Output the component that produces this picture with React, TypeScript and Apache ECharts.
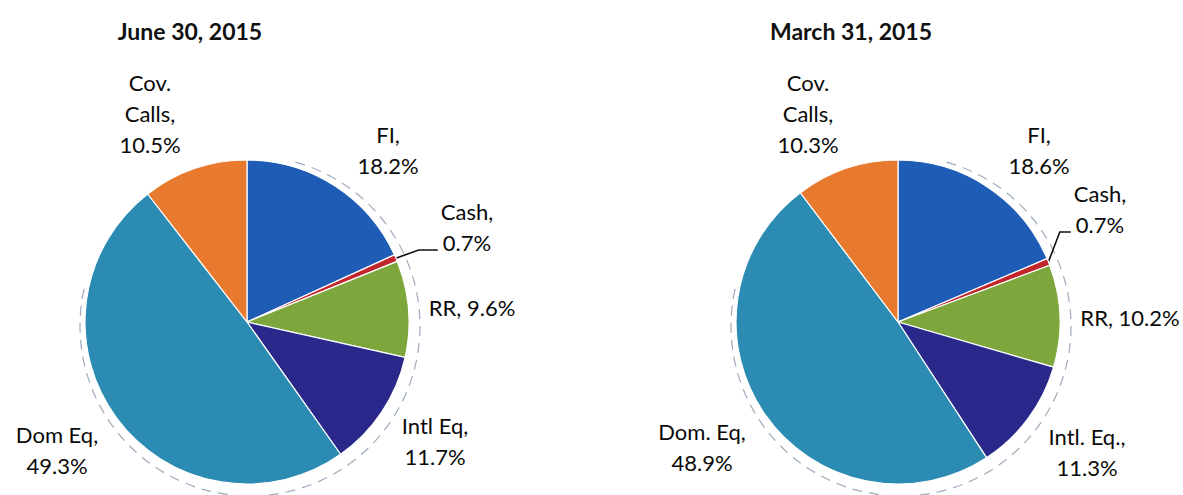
import React, { useEffect, useRef } from "react";
import * as echarts from "echarts";

const categories = ["FI", "Cash", "RR", "Intl Eq", "Dom Eq", "Cov. Calls"];
const juneNames = ["FI", "Cash", "RR", "Intl Eq", "Dom Eq", "Cov. Calls"];
const marchNames = ["FI", "Cash", "RR", "Intl. Eq.", "Dom. Eq", "Cov. Calls"];
const juneValues = [18.2, 0.7, 9.6, 11.7, 49.3, 10.5];
const marchValues = [18.6, 0.7, 10.2, 11.3, 48.9, 10.3];
const titles = ["June 30, 2015", "March 31, 2015"];

const colors = ["#1E5CB6", "#C1262C", "#7DA73D", "#2A298B", "#2B8BB3", "#E87A2F"];

// layout (label centres) in pixels
const juneLabelPos = [[388, 150], [467, 227], [472, 307], [435, 441], [57, 450], [150, 113]];
const marchLabelPos = [[1039, 150], [1100, 209], [1130, 317], [1087, 452], [702, 447], [808, 113]];
const juneLeaderHoriz = 19;
const marchLeaderHoriz = 11;

const FONT = "Lato";

function labelText(name: string, value: number) {
  const n = name === "Cov. Calls" ? "Cov.\nCalls" : name;
  const sep = name === "RR" ? " " : "\n";
  return n + "," + sep + value.toFixed(1) + "%";
}

function buildData(names: string[], values: number[]) {
  return values.map((v, i) => ({
    name: names[i],
    value: v,
    itemStyle: { color: colors[i] },
    labelLine:
      categories[i] === "Cash"
        ? { show: true, length: 10, length2: 10, smooth: false, lineStyle: { color: "#111", width: 1.6 } }
        : { show: false },
  }));
}

function pieSeries(names: string[], values: number[], cx: number, pos: number[][], horiz: number) {
  return {
    type: "pie",
    center: [cx, 322],
    radius: 162,
    startAngle: 90,
    clockwise: true,
    avoidLabelOverlap: false,
    data: buildData(names, values),
    itemStyle: { borderColor: "#ffffff", borderWidth: 1.2 },
    label: {
      show: true,
      position: "outside",
      formatter: (p: any) => labelText(p.name, p.value),
      fontFamily: FONT,
      fontSize: 22,
      lineHeight: 31,
      color: "#0a0a0a",
      align: "center",
    },
    labelLine: { show: false },
    labelLayout: (p: any) => {
      const q = pos[p.dataIndex];
      const res: any = { x: q[0], y: q[1], align: "center", verticalAlign: "middle" };
      if (categories[p.dataIndex] === "Cash" && p.labelLinePoints && p.labelRect) {
        const start = p.labelLinePoints[0];
        const left = q[0] - p.labelRect.width / 2 - 3;
        const ly = q[1] + 23;
        res.labelLinePoints = [[start[0], start[1]], [left - horiz, ly], [left, ly]];
      }
      return res;
    },
    emphasis: { disabled: true },
  };
}

function shadowArc(cx: number) {
  return {
    type: "arc",
    silent: true,
    z: -1,
    shape: { cx: cx + 3, cy: 326, r: 170, startAngle: -1.3, endAngle: 3.4, clockwise: true },
    style: { stroke: "#7f8fa6", lineWidth: 1.2, lineDash: [10, 7], fill: null, opacity: 0.75 },
  };
}

export default function App() {
  const ref = useRef<HTMLDivElement>(null);
  useEffect(() => {
    if (!ref.current) return;
    const chart = echarts.init(ref.current, null, { renderer: "svg" });
    const titleStyle = { fontFamily: FONT, fontWeight: "bold", fontSize: 23, color: "#111" };
    chart.setOption({
      animation: false,
      backgroundColor: "#ffffff",
      title: [
        { text: titles[0], left: 190, top: 19, textAlign: "center", padding: 0, textStyle: titleStyle },
        { text: titles[1], left: 851, top: 19, textAlign: "center", padding: 0, textStyle: titleStyle },
      ],
      graphic: [shadowArc(247), shadowArc(898)],
      series: [
        pieSeries(juneNames, juneValues, 247, juneLabelPos, juneLeaderHoriz),
        pieSeries(marchNames, marchValues, 898, marchLabelPos, marchLeaderHoriz),
      ],
    });
    return () => chart.dispose();
  }, []);
  return (
    <div
      ref={ref}
      style={{ position: "fixed", left: 0, top: 0, width: 1183, height: 495, background: "#fff" }}
    />
  );
}
